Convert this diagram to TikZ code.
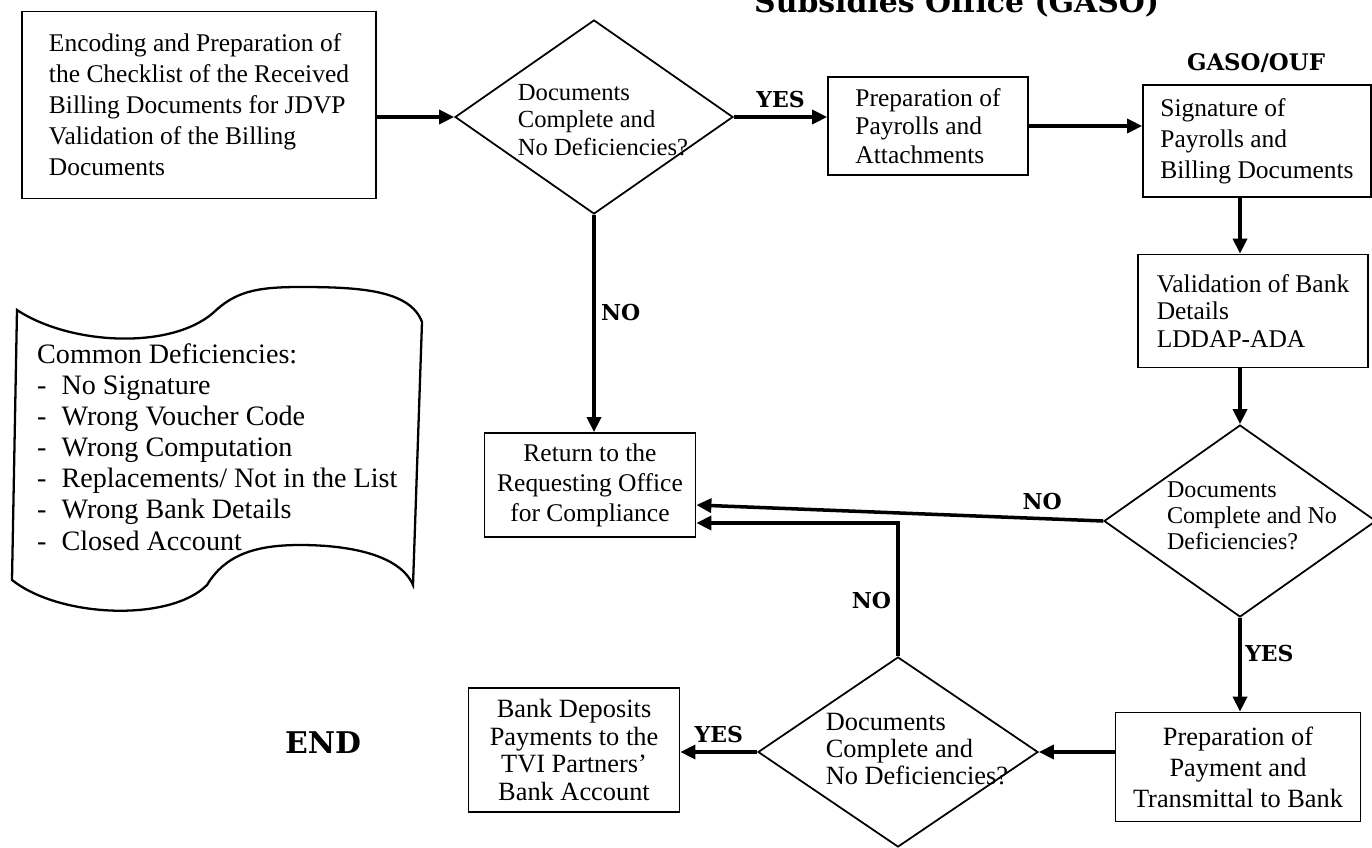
\documentclass[tikz,border=0pt]{standalone}
\usepackage{fontspec}
\setmainfont{Liberation Serif}
\newfontfamily\heavyfont{DejaVu Serif}
\usetikzlibrary{arrows.meta,shapes.geometric}

\begin{document}
\begin{tikzpicture}[x=0.2mm,y=-0.2mm,
	box/.style={draw,line width=1pt,inner sep=0pt,font=\fontsize{14.5}{17.6}\selectfont},
	dia/.style={draw,diamond,line width=1pt,inner sep=0pt},
	arr/.style={line width=2pt,-{Triangle[length=3mm,width=2.8mm]}},
	lbl/.style={font=\heavyfont\bfseries\fontsize{12.5}{14}\selectfont,inner sep=0pt}]
	\useasboundingbox (0,0) rectangle (1372,847);
	\clip (0,0) rectangle (1372,847);

	\node[anchor=base west,font=\heavyfont\bfseries\fontsize{17}{20}\selectfont] (title) at (748,13) {Subsidies Office (GASO)};

	\node[box,align=left,minimum width=70.8mm,minimum height=37.4mm] (enc) at (199,105) {Encoding and Preparation of\\the Checklist of the Received\\Billing Documents for JDVP\\Validation of the Billing\\Documents};
	\node[dia,minimum width=55.6mm,minimum height=38.8mm] (d1) at (594,117) {};
	\node[align=left,font=\fontsize{14}{15.8}\selectfont] (q1) at (603,120) {Documents\\Complete and\\No Deficiencies?};
	\node[box,align=left,minimum width=40mm,minimum height=19.6mm,font=\fontsize{14.5}{16.4}\selectfont] (pp) at (928,126) {Preparation of\\Payrolls and\\Attachments};

	\node[lbl,font=\heavyfont\bfseries\fontsize{13}{15}\selectfont] (gaso) at (1256,63) {GASO/OUF};
	\node[box,align=left,minimum width=45.6mm,minimum height=22.4mm] (sign) at (1257,141) {Signature of\\Payrolls and\\Billing Documents};
	\node[box,align=left,minimum width=46mm,minimum height=22.6mm,font=\fontsize{14.5}{15.6}\selectfont] (bank) at (1253,311) {Validation of Bank\\Details\\LDDAP-ADA};
	\node[dia,minimum width=54.4mm,minimum height=38.4mm] (d2) at (1240,521) {};
	\node[align=left,font=\fontsize{13.7}{14.8}\selectfont] (q2) at (1252,516) {Documents\\Complete and No\\Deficiencies?};

	\node[box,align=center,minimum width=42.2mm,minimum height=20.8mm,font=\fontsize{14.5}{17}\selectfont] (ret) at (590,485) {Return to the\\Requesting Office\\for Compliance};

	\node[box,align=center,minimum width=49mm,minimum height=21.8mm,font=\fontsize{15}{17.6}\selectfont] (pay) at (1238,767) {Preparation of\\Payment and\\Transmittal to Bank};
	\node[dia,minimum width=56mm,minimum height=38mm] (d3) at (898,752) {};
	\node[align=left,font=\fontsize{15}{15.5}\selectfont] (q3) at (917,749) {Documents\\Complete and\\No Deficiencies?};
	\node[box,align=center,minimum width=42.2mm,minimum height=24.8mm,font=\fontsize{15}{15.8}\selectfont] (dep) at (574,750) {Bank Deposits\\Payments to the\\TVI Partners’\\Bank Account};
	\node[lbl,font=\heavyfont\bfseries\fontsize{17}{20}\selectfont] (end) at (323,743) {END};

	\draw[line width=1.3pt] (17,310) .. controls (70,345) and (170,350) .. (213,313)
		.. controls (235,292) and (255,287) .. (300,287)
		.. controls (360,287) and (410,290) .. (422,322)
		-- (413,585)
		.. controls (400,555) and (350,545) .. (300,545)
		.. controls (255,545) and (225,555) .. (207,585)
		.. controls (170,622) and (60,618) .. (12,580)
		-- cycle;
	\node[anchor=west,align=left,font=\fontsize{16}{17.7}\selectfont] (defs) at (31,447) {Common Deficiencies:\\-\hspace{3mm}No Signature\\-\hspace{3mm}Wrong Voucher Code\\-\hspace{3mm}Wrong Computation\\-\hspace{3mm}Replacements/ Not in the List\\-\hspace{3mm}Wrong Bank Details\\-\hspace{3mm}Closed Account};

	\draw[arr] (enc.east |- d1.west) -- (d1.west);
	\draw[arr] (d1.east) -- (pp.west |- d1.east) node[lbl,midway,above=4pt] (yes1) {YES};
	\draw[arr] (d1.south) -- (d1.south |- ret.north) node[lbl,pos=0.45,right=3pt] (no1) {NO};
	\draw[arr] (pp.east) -- (sign.west |- pp.east);
	\draw[arr] (sign.south -| d2.north) -- (bank.north -| d2.north);
	\draw[arr] (bank.south -| d2.north) -- (d2.north);
	\draw[arr] (d2.west) -- ([yshift=-4mm]ret.east) node[lbl,pos=0.15,above=4pt] (no2) {NO};
	\draw[arr] (d2.south) -- (d2.south |- pay.north) node[lbl,pos=0.38,right=2pt] (yes2) {YES};
	\draw[arr] (pay.west |- d3.east) -- (d3.east);
	\draw[arr] (d3.west) -- (dep.east |- d3.west) node[lbl,midway,above=4pt] (yes3) {YES};
	\draw[arr] (d3.north) |- ([yshift=-7.6mm]ret.east) node[lbl,pos=0.21,left=3pt] (no3) {NO};
\end{tikzpicture}
\end{document}
